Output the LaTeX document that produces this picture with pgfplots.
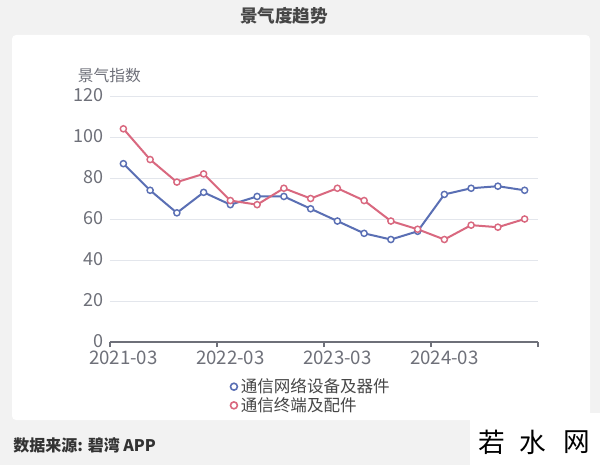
\documentclass[border=0pt]{standalone}
\usepackage{pgfplots}
\pgfplotsset{compat=1.18}
\usepackage{fontspec}
\setmainfont{Noto Sans CJK SC}
\definecolor{bg}{HTML}{F2F2F2}
\definecolor{axgray}{HTML}{6E7079}
\definecolor{gridc}{HTML}{E3E6EC}
\definecolor{cblue}{HTML}{5A6FB4}
\definecolor{cpink}{HTML}{D9687F}
\definecolor{titlec}{HTML}{464646}
\begin{document}
\begin{tikzpicture}
\fill[bg] (0,0) rectangle (450pt,348.75pt);
\fill[white,rounded corners=3pt] (9pt,33.75pt) rectangle (442.5pt,322.5pt);
\fill[white] (352.5pt,0pt) rectangle (450pt,39pt);
\node[font=\bfseries\fontsize{13.2pt}{15pt}\selectfont,text=titlec] at (213pt,336.75pt) {景气度趋势};
\node[font=\fontsize{11.8pt}{13pt}\selectfont,text=axgray] at (82pt,291.75pt) {景气指数};
\node[font=\bfseries\fontsize{12pt}{14pt}\selectfont,text=black!80,anchor=west,inner sep=0pt] at (9.75pt,15pt) {数据来源: 碧湾 APP};
\node[font=\fontsize{20pt}{22pt}\selectfont] at (369pt,17.25pt) {若};
\node[font=\fontsize{20pt}{22pt}\selectfont] at (399.75pt,17.25pt) {水};
\node[font=\fontsize{20pt}{22pt}\selectfont] at (432.75pt,17.25pt) {网};
\begin{axis}[
  at={(82.5pt,92.25pt)}, anchor=south west,
  scale only axis, width=321pt, height=184.5pt,
  xmin=-0.5, xmax=15.5, ymin=0, ymax=120,
  ytick={0,20,...,120},
  xtick={0,4,8,12},
  xticklabels={2021-03,2022-03,2023-03,2024-03},
  minor xtick={-0.5,3.5,7.5,11.5,15.5},
  separate axis lines,
  axis x line*=bottom, axis y line*=left,
  y axis line style={draw=none},
  x axis line style={draw=axgray,line width=0.8pt,-},
  major tick length=0pt, minor tick length=3.75pt,
  tick align=outside,
  minor tick style={draw=axgray,line width=0.8pt},
  ymajorgrids, grid style={draw=gridc,line width=0.7pt},
  /pgf/number format/assume math mode=true,
  yticklabel style={font=\fontsize{13.5pt}{15pt}\selectfont,text=axgray,xshift=-1pt,yshift=0.5pt},
  xticklabel style={font=\fontsize{14pt}{16pt}\selectfont,text=axgray,yshift=-3.5pt},
  clip=false,
  legend style={at={(0.279,-0.137)}, anchor=north west, draw=none, fill=none,
    font=\fontsize{12.4pt}{14pt}\selectfont, text=black!72, row sep=-2pt,
    inner sep=0pt},
  legend cell align=left,
  legend image code/.code={\draw[#1,line width=1.2pt,fill=white] (3pt,0pt) circle (2.6pt);},
]
\addplot[cblue, line width=1.5pt, mark=*, mark size=2.3pt, mark options={fill=white,line width=1.1pt}]
coordinates {(0,87)(1,74)(2,63)(3,73)(4,67)(5,71)(6,71)(7,65)(8,59)(9,53)(10,50)(11,54)(12,72)(13,75)(14,76)(15,74)};
\addlegendentry{通信网络设备及器件}
\addplot[cpink, line width=1.5pt, mark=*, mark size=2.3pt, mark options={fill=white,line width=1.1pt}]
coordinates {(0,104)(1,89)(2,78)(3,82)(4,69)(5,67)(6,75)(7,70)(8,75)(9,69)(10,59)(11,55)(12,50)(13,57)(14,56)(15,60)};
\addlegendentry{通信终端及配件}
\end{axis}
\end{tikzpicture}
\end{document}
